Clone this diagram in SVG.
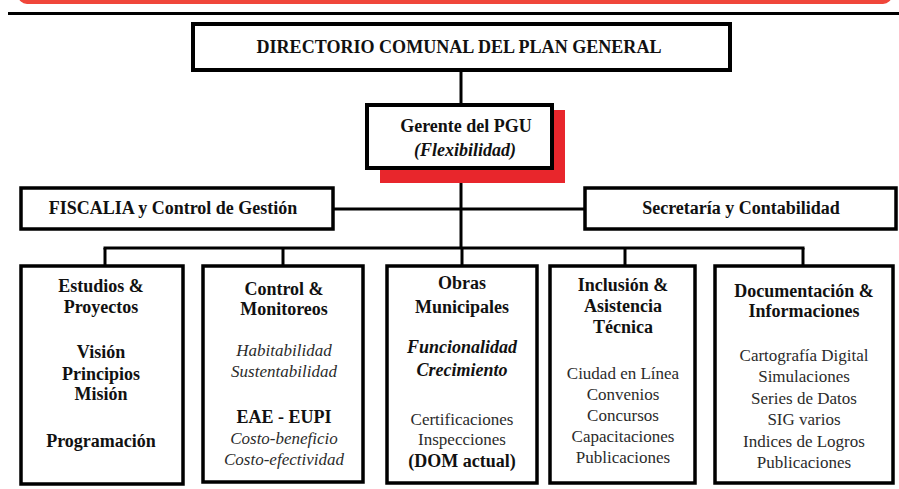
<svg xmlns="http://www.w3.org/2000/svg" width="899" height="489" viewBox="0 0 899 489">
<style>
.box{fill:#fff;stroke:#000;stroke-width:3.5}
.con{stroke:#000;stroke-width:3;fill:none}
</style>
<rect x="18" y="-14" width="874" height="18" rx="9" fill="#f0463a"/>
<line x1="8" y1="13.5" x2="899" y2="13.5" stroke="#000" stroke-width="3"/>
<g id="connectors">
<line class="con" x1="461" y1="70" x2="461" y2="106"/>
<line class="con" x1="461" y1="168" x2="461" y2="248"/>
<line class="con" x1="333" y1="209" x2="585" y2="209"/>
<line class="con" x1="103.5" y1="248" x2="804.5" y2="248"/>
<line class="con" x1="105" y1="248" x2="105" y2="266"/>
<line class="con" x1="283" y1="248" x2="283" y2="266"/>
<line class="con" x1="462" y1="248" x2="462" y2="266"/>
<line class="con" x1="625" y1="248" x2="625" y2="266"/>
<line class="con" x1="803" y1="248" x2="803" y2="266"/>
</g>
<g id="directorio">
<rect class="box" x="193" y="24" width="537" height="46" stroke-width="4" style="stroke-width:4"/>
<text font-family="Liberation Serif" font-size="18" font-weight="bold" fill="#111" text-anchor="middle" x="459" y="53" textLength="405" lengthAdjust="spacingAndGlyphs">DIRECTORIO COMUNAL DEL PLAN GENERAL</text>
</g>
<g id="gerente">
<rect x="380" y="110" width="185" height="73" fill="#e8262c"/>
<rect class="box" x="367" y="105" width="185" height="63" style="stroke-width:4"/>
<text font-family="Liberation Serif" font-size="18" font-weight="bold" fill="#111" text-anchor="middle" x="466" y="132">Gerente del PGU</text>
<text font-family="Liberation Serif" font-size="18" font-weight="bold" font-style="italic" fill="#111" text-anchor="middle" x="465" y="156">(Flexibilidad)</text>
</g>
<g id="fiscalia">
<rect class="box" x="21" y="188" width="312" height="41"/>
<text font-family="Liberation Serif" font-size="18" font-weight="bold" fill="#111" text-anchor="middle" x="173" y="214">FISCALIA y Control de Gestión</text>
</g>
<g id="secretaria">
<rect class="box" x="585" y="188" width="311" height="41"/>
<text font-family="Liberation Serif" font-size="18" font-weight="bold" fill="#111" text-anchor="middle" x="741" y="214">Secretaría y Contabilidad</text>
</g>
<g id="estudios" font-family="Liberation Serif" font-size="18" font-weight="bold" fill="#111" text-anchor="middle">
<rect class="box" x="21" y="266" width="162" height="218"/>
<text font-family="Liberation Serif" font-size="18" font-weight="bold" x="101" y="292">Estudios &amp;</text>
<text font-family="Liberation Serif" font-size="18" font-weight="bold" x="101" y="313">Proyectos</text>
<text font-family="Liberation Serif" font-size="18" font-weight="bold" x="101" y="358">Visión</text>
<text font-family="Liberation Serif" font-size="18" font-weight="bold" x="101" y="380">Principios</text>
<text font-family="Liberation Serif" font-size="18" font-weight="bold" x="101" y="400">Misión</text>
<text font-family="Liberation Serif" font-size="18" font-weight="bold" x="101" y="447">Programación</text>
</g>
<g id="control" text-anchor="middle">
<rect class="box" x="203" y="266" width="160" height="216"/>
<text font-family="Liberation Serif" font-size="18" font-weight="bold" fill="#111" x="284" y="295">Control &amp;</text>
<text font-family="Liberation Serif" font-size="18" font-weight="bold" fill="#111" x="284" y="315">Monitoreos</text>
<text font-family="Liberation Serif" font-size="17" font-style="italic" fill="#2b2b2b" x="284" y="356">Habitabilidad</text>
<text font-family="Liberation Serif" font-size="17" font-style="italic" fill="#2b2b2b" x="284" y="377">Sustentabilidad</text>
<text font-family="Liberation Serif" font-size="18" font-weight="bold" fill="#111" x="284" y="423">EAE - EUPI</text>
<text font-family="Liberation Serif" font-size="17" font-style="italic" fill="#2b2b2b" x="284" y="444">Costo-beneficio</text>
<text font-family="Liberation Serif" font-size="17" font-style="italic" fill="#2b2b2b" x="284" y="465">Costo-efectividad</text>
</g>
<g id="obras" text-anchor="middle">
<rect class="box" x="387" y="266" width="150" height="217"/>
<text font-family="Liberation Serif" font-size="18" font-weight="bold" fill="#111" x="462" y="289">Obras</text>
<text font-family="Liberation Serif" font-size="18" font-weight="bold" fill="#111" x="462" y="313">Municipales</text>
<text font-family="Liberation Serif" font-size="18" font-weight="bold" font-style="italic" fill="#111" x="462" y="353">Funcionalidad</text>
<text font-family="Liberation Serif" font-size="18" font-weight="bold" font-style="italic" fill="#111" x="462" y="376">Crecimiento</text>
<text font-family="Liberation Serif" font-size="17" fill="#2b2b2b" x="462" y="425">Certificaciones</text>
<text font-family="Liberation Serif" font-size="17" fill="#2b2b2b" x="462" y="445">Inspecciones</text>
<text font-family="Liberation Serif" font-size="18" font-weight="bold" fill="#111" x="462" y="467">(DOM actual)</text>
</g>
<g id="inclusion" text-anchor="middle">
<rect class="box" x="550" y="266" width="145" height="217"/>
<text font-family="Liberation Serif" font-size="18" font-weight="bold" fill="#111" x="623" y="291">Inclusión &amp;</text>
<text font-family="Liberation Serif" font-size="18" font-weight="bold" fill="#111" x="623" y="312">Asistencia</text>
<text font-family="Liberation Serif" font-size="18" font-weight="bold" fill="#111" x="623" y="333">Técnica</text>
<text font-family="Liberation Serif" font-size="17" fill="#2b2b2b" x="623" y="379">Ciudad en Línea</text>
<text font-family="Liberation Serif" font-size="17" fill="#2b2b2b" x="623" y="400">Convenios</text>
<text font-family="Liberation Serif" font-size="17" fill="#2b2b2b" x="623" y="421">Concursos</text>
<text font-family="Liberation Serif" font-size="17" fill="#2b2b2b" x="623" y="442">Capacitaciones</text>
<text font-family="Liberation Serif" font-size="17" fill="#2b2b2b" x="623" y="463">Publicaciones</text>
</g>
<g id="documentacion" text-anchor="middle">
<rect class="box" x="715" y="266" width="178" height="217"/>
<text font-family="Liberation Serif" font-size="18" font-weight="bold" fill="#111" x="804" y="297">Documentación &amp;</text>
<text font-family="Liberation Serif" font-size="18" font-weight="bold" fill="#111" x="804" y="317">Informaciones</text>
<text font-family="Liberation Serif" font-size="17" fill="#2b2b2b" x="804" y="361">Cartografía Digital</text>
<text font-family="Liberation Serif" font-size="17" fill="#2b2b2b" x="804" y="382">Simulaciones</text>
<text font-family="Liberation Serif" font-size="17" fill="#2b2b2b" x="804" y="404">Series de Datos</text>
<text font-family="Liberation Serif" font-size="17" fill="#2b2b2b" x="804" y="425">SIG varios</text>
<text font-family="Liberation Serif" font-size="17" fill="#2b2b2b" x="804" y="447">Indices de Logros</text>
<text font-family="Liberation Serif" font-size="17" fill="#2b2b2b" x="804" y="468">Publicaciones</text>
</g>
</svg>
